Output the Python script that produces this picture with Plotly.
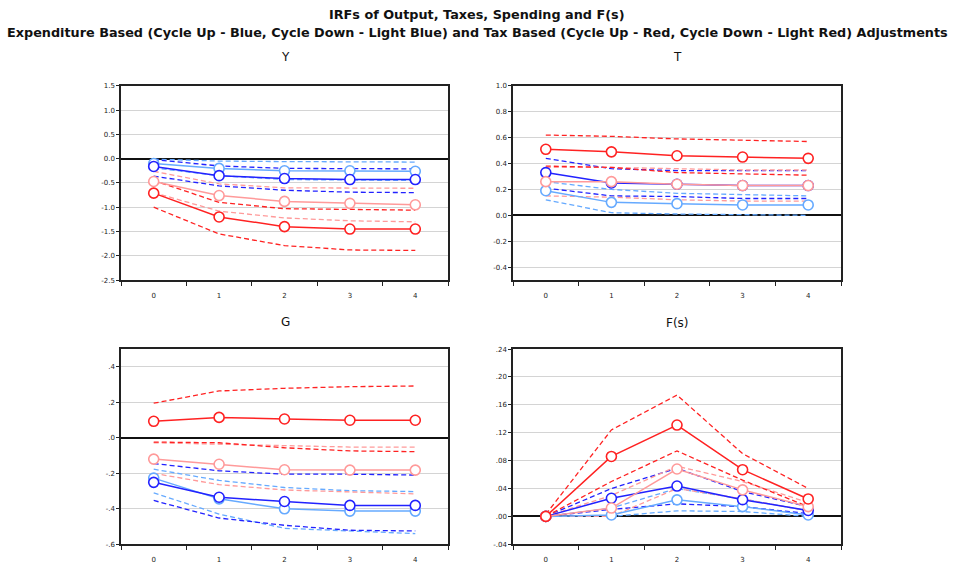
import plotly.graph_objects as go

horizons = [0, 1, 2, 3, 4]

# ---- Y (output) ----
y_red = [-0.71, -1.20, -1.40, -1.45, -1.45]
y_red_up = [-0.45, -0.90, -1.03, -1.05, -1.06]
y_red_lo = [-1.00, -1.55, -1.79, -1.88, -1.89]
y_lred = [-0.47, -0.76, -0.88, -0.92, -0.95]
y_lred_up = [-0.26, -0.52, -0.60, -0.61, -0.61]
y_lred_lo = [-0.70, -1.08, -1.22, -1.28, -1.30]
y_blue = [-0.16, -0.35, -0.41, -0.43, -0.43]
y_blue_up = [-0.02, -0.15, -0.20, -0.20, -0.21]
y_blue_lo = [-0.36, -0.56, -0.65, -0.69, -0.70]
y_lblue = [-0.10, -0.20, -0.25, -0.25, -0.26]
y_lblue_up = [-0.01, -0.05, -0.06, -0.07, -0.07]
y_lblue_lo = [-0.19, -0.35, -0.43, -0.44, -0.45]

# ---- T (taxes) ----
t_red = [0.51, 0.49, 0.46, 0.45, 0.44]
t_red_up = [0.62, 0.61, 0.59, 0.58, 0.57]
t_red_lo = [0.38, 0.37, 0.33, 0.32, 0.31]
t_lred = [0.26, 0.26, 0.24, 0.23, 0.23]
t_lred_up = [0.37, 0.37, 0.36, 0.35, 0.35]
t_lred_lo = [0.15, 0.14, 0.12, 0.11, 0.11]
t_blue = [0.33, 0.25, 0.24, 0.23, 0.23]
t_blue_up = [0.44, 0.36, 0.345, 0.345, 0.345]
t_blue_lo = [0.21, 0.15, 0.145, 0.13, 0.13]
t_lblue = [0.19, 0.10, 0.09, 0.08, 0.08]
t_lblue_up = [0.26, 0.20, 0.17, 0.16, 0.15]
t_lblue_lo = [0.12, 0.02, 0.01, 0.005, 0.0]

# ---- G (spending) ----
g_red = [0.093, 0.115, 0.106, 0.099, 0.099]
g_red_up = [0.195, 0.264, 0.279, 0.288, 0.292]
g_red_lo = [-0.024, -0.028, -0.056, -0.074, -0.078]
g_lred = [-0.12, -0.149, -0.18, -0.182, -0.182]
g_lred_up = [-0.028, -0.037, -0.047, -0.052, -0.052]
g_lred_lo = [-0.20, -0.264, -0.294, -0.307, -0.316]
g_blue = [-0.251, -0.335, -0.359, -0.381, -0.381]
g_blue_up = [-0.145, -0.186, -0.205, -0.205, -0.21]
g_blue_lo = [-0.353, -0.452, -0.493, -0.521, -0.525]
g_lblue = [-0.227, -0.344, -0.40, -0.413, -0.413]
g_lblue_up = [-0.177, -0.24, -0.28, -0.298, -0.303]
g_lblue_lo = [-0.31, -0.43, -0.51, -0.525, -0.54]

# ---- F(s) ----
f_red = [0.0, 0.086, 0.131, 0.067, 0.025]
f_red_up = [0.003, 0.124, 0.174, 0.090, 0.040]
f_red_lo = [0.0, 0.050, 0.094, 0.052, 0.014]
f_lred = [0.0, 0.012, 0.068, 0.038, 0.014]
f_lred_up = [0.0, 0.030, 0.072, 0.050, 0.020]
f_lred_lo = [0.0, 0.000, 0.040, 0.025, 0.008]
f_blue = [0.0, 0.026, 0.0435, 0.024, 0.0085]
f_blue_up = [0.0, 0.040, 0.069, 0.0355, 0.014]
f_blue_lo = [0.0, 0.010, 0.018, 0.014, 0.004]
f_lblue = [0.0, 0.002, 0.0237, 0.014, 0.002]
f_lblue_up = [0.0, 0.012, 0.040, 0.025, 0.008]
f_lblue_lo = [0.0, 0.000, 0.008, 0.007, 0.0]

RED = "#ff2222"
LRED = "#ff9a9a"
BLUE = "#2222ff"
LBLUE = "#66aaff"

panels = [
    dict(name="Y", xa="x", ya="y", series=[
        (LBLUE, y_lblue, y_lblue_up, y_lblue_lo),
        (BLUE, y_blue, y_blue_up, y_blue_lo),
        (LRED, y_lred, y_lred_up, y_lred_lo),
        (RED, y_red, y_red_up, y_red_lo)]),
    dict(name="T", xa="x2", ya="y2", series=[
        (LBLUE, t_lblue, t_lblue_up, t_lblue_lo),
        (BLUE, t_blue, t_blue_up, t_blue_lo),
        (LRED, t_lred, t_lred_up, t_lred_lo),
        (RED, t_red, t_red_up, t_red_lo)]),
    dict(name="G", xa="x3", ya="y3", series=[
        (LBLUE, g_lblue, g_lblue_up, g_lblue_lo),
        (BLUE, g_blue, g_blue_up, g_blue_lo),
        (LRED, g_lred, g_lred_up, g_lred_lo),
        (RED, g_red, g_red_up, g_red_lo)]),
    dict(name="F(s)", xa="x4", ya="y4", series=[
        (LBLUE, f_lblue, f_lblue_up, f_lblue_lo),
        (BLUE, f_blue, f_blue_up, f_blue_lo),
        (LRED, f_lred, f_lred_up, f_lred_lo),
        (RED, f_red, f_red_up, f_red_lo)]),
]

fig = go.Figure()
for p in panels:
    for color, mid, up, lo in p["series"]:
        for band in (up, lo):
            fig.add_trace(go.Scatter(x=horizons, y=band, mode="lines",
                                     line=dict(color=color, width=1.3, dash="5px,3px"),
                                     xaxis=p["xa"], yaxis=p["ya"], showlegend=False,
                                     hoverinfo="skip"))
    for color, mid, up, lo in p["series"]:
        fig.add_trace(go.Scatter(x=horizons, y=mid, mode="lines+markers",
                                 line=dict(color=color, width=1.5),
                                 marker=dict(symbol="circle", size=10, color="white",
                                             line=dict(color=color, width=1.6)),
                                 xaxis=p["xa"], yaxis=p["ya"], showlegend=False))

W, H = 954, 568
def dx(a, b):
    return [a / W, b / W]
def dy(top, bottom):
    return [1 - bottom / H, 1 - top / H]

tickfont = dict(family="DejaVu Sans, Liberation Sans, sans-serif", size=7, color="#222222")

def xaxis_cfg(domain, anchor):
    return dict(domain=domain, anchor=anchor, range=[-0.5, 4.5],
                tickvals=horizons, ticktext=[str(h) for h in horizons],
                ticks="", showgrid=False, zeroline=False,
                showline=True, linecolor="#222222", linewidth=1.5, mirror=True,
                tickfont=tickfont, ticklabelstandoff=8,
                minor=dict(ticks="outside", tick0=-0.5, dtick=1, ticklen=4,
                           tickcolor="#222222", tickwidth=1, showgrid=False))

def yaxis_cfg(domain, anchor, rng, vals, texts):
    return dict(domain=domain, anchor=anchor, range=rng,
                tickvals=vals, ticktext=texts, ticks="outside", ticklen=3,
                tickcolor="#222222",
                showgrid=True, gridcolor="#d4d4d4", gridwidth=1,
                zeroline=True, zerolinecolor="#111111", zerolinewidth=1.5,
                showline=True, linecolor="#222222", linewidth=1.5, mirror=True,
                tickfont=tickfont)

y_vals = [1.5, 1.0, 0.5, 0.0, -0.5, -1.0, -1.5, -2.0, -2.5]
y_text = ["1.5", "1.0", "0.5", "0.0", "-0.5", "-1.0", "-1.5", "-2.0", "-2.5"]
t_vals = [1.0, 0.8, 0.6, 0.4, 0.2, 0.0, -0.2, -0.4]
t_text = ["1.0", "0.8", "0.6", "0.4", "0.2", "0.0", "-0.2", "-0.4"]
g_vals = [0.4, 0.2, 0.0, -0.2, -0.4, -0.6]
g_text = [".4", ".2", ".0", "-.2", "-.4", "-.6"]
f_vals = [0.24, 0.20, 0.16, 0.12, 0.08, 0.04, 0.0, -0.04]
f_text = [".24", ".20", ".16", ".12", ".08", ".04", ".00", "-.04"]

left = dx(121, 448)
right = dx(513, 841)
top = dy(83, 280)
bottom = dy(350, 548)

fig.update_layout(
    width=W, height=H, autosize=False,
    margin=dict(l=0, r=0, t=0, b=0),
    paper_bgcolor="white", plot_bgcolor="white",
    font=dict(family="DejaVu Sans, Liberation Sans, sans-serif"),
    xaxis=xaxis_cfg(left, "y"),
    yaxis=yaxis_cfg(top, "x", [-2.5, 1.5], y_vals, y_text),
    xaxis2=xaxis_cfg(right, "y2"),
    yaxis2=yaxis_cfg(top, "x2", [-0.5, 1.0], t_vals, t_text),
    xaxis3=xaxis_cfg(left, "y3"),
    yaxis3=yaxis_cfg(bottom, "x3", [-0.6, 0.5], g_vals, g_text),
    xaxis4=xaxis_cfg(right, "y4"),
    yaxis4=yaxis_cfg(bottom, "x4", [-0.04, 0.24], f_vals, f_text),
)

titlefont = dict(family="DejaVu Sans, Liberation Sans, sans-serif", size=12.8, color="#111111")
panelfont = dict(family="DejaVu Sans, Liberation Sans, sans-serif", size=12, color="#111111")
annotations = [
    dict(text="<b>IRFs of Output, Taxes, Spending and F(s)</b>", x=477 / W, y=1 - 11 / H, f=titlefont),
    dict(text="<b>Expenditure Based (Cycle Up - Blue, Cycle Down - Light Blue) and Tax Based (Cycle Up - Red, Cycle Down - Light Red) Adjustments</b>",
         x=477 / W, y=1 - 29 / H, f=titlefont),
    dict(text="Y", x=285 / W, y=1 - 54 / H, f=panelfont),
    dict(text="T", x=677 / W, y=1 - 54 / H, f=panelfont),
    dict(text="G", x=285 / W, y=1 - 323 / H, f=panelfont),
    dict(text="F(s)", x=677 / W, y=1 - 324 / H, f=panelfont),
]
for a in annotations:
    fig.add_annotation(text=a["text"], x=a["x"], y=a["y"], xref="paper", yref="paper",
                       showarrow=False, xanchor="center", yanchor="middle", font=a["f"])

fig.write_html("out.html", config={"displayModeBar": False},
               post_script="document.body.style.margin='0px';document.body.style.padding='0px';document.body.style.overflow='hidden';")
